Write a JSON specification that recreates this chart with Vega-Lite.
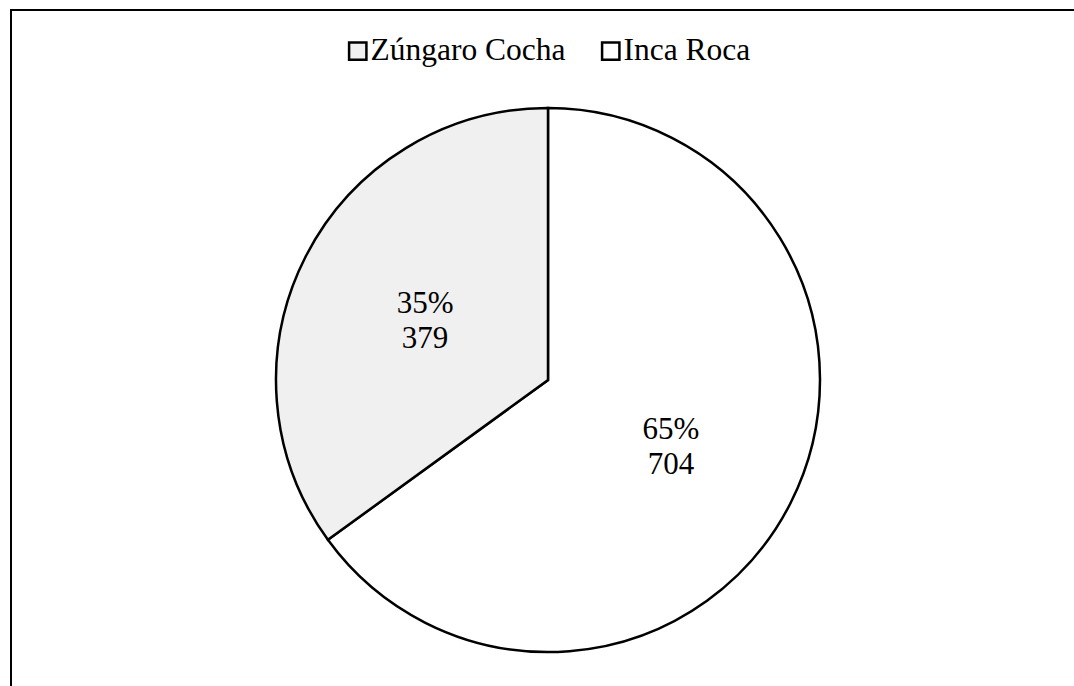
{
  "$schema": "https://vega.github.io/schema/vega-lite/v6.json",
  "width": 1074,
  "height": 740,
  "autosize": {"type": "none"},
  "padding": {"left": 11, "top": 10, "right": 0, "bottom": 0},
  "background": "white",
  "view": {"stroke": "black", "strokeWidth": 2},
  "config": {
    "view": {"stroke": "black", "strokeWidth": 2},
    "font": "Liberation Serif",
    "text": {"lineBreak": "\n"}
  },
  "layer": [
    {
      "data": {"values": [{"frame": "box"}]},
      "mark": {"type": "rect", "fill": null, "stroke": "black", "strokeWidth": 2},
      "encoding": {}
    },
    {
      "data": {
        "values": [
          {"name": "Inca Roca", "value": 704, "label": "65%\n704"},
          {"name": "Zúngaro Cocha", "value": 379, "label": "35%\n379"}
        ]
      },
      "encoding": {
        "theta": {"field": "value", "type": "quantitative", "stack": true},
        "order": {"field": "name", "sort": "ascending"}
      },
      "layer": [
        {
          "mark": {"type": "arc", "outerRadius": 272, "stroke": "black", "strokeWidth": 2.5},
          "encoding": {
            "color": {
              "field": "name",
              "type": "nominal",
              "scale": {"domain": ["Zúngaro Cocha", "Inca Roca"], "range": ["#f0f0f0", "#ffffff"]},
              "legend": {
                "title": null,
                "orient": "none",
                "direction": "horizontal",
                "legendX": 331,
                "legendY": 25,
                "symbolType": "square",
                "symbolSize": 300,
                "symbolStrokeColor": "black",
                "symbolStrokeWidth": 2.5,
                "labelFont": "Liberation Serif",
                "labelFontSize": 31.5,
                "labelColor": "black",
                "labelLimit": 400,
                "labelOffset": -3,
                "columnPadding": 29
              }
            }
          }
        },
        {
          "mark": {"type": "text", "radius": 138, "dy": -13, "font": "Liberation Serif", "fontSize": 31, "color": "black", "lineHeight": 35},
          "encoding": {
            "text": {"field": "label", "type": "nominal"}
          }
        }
      ]
    }
  ]
}
